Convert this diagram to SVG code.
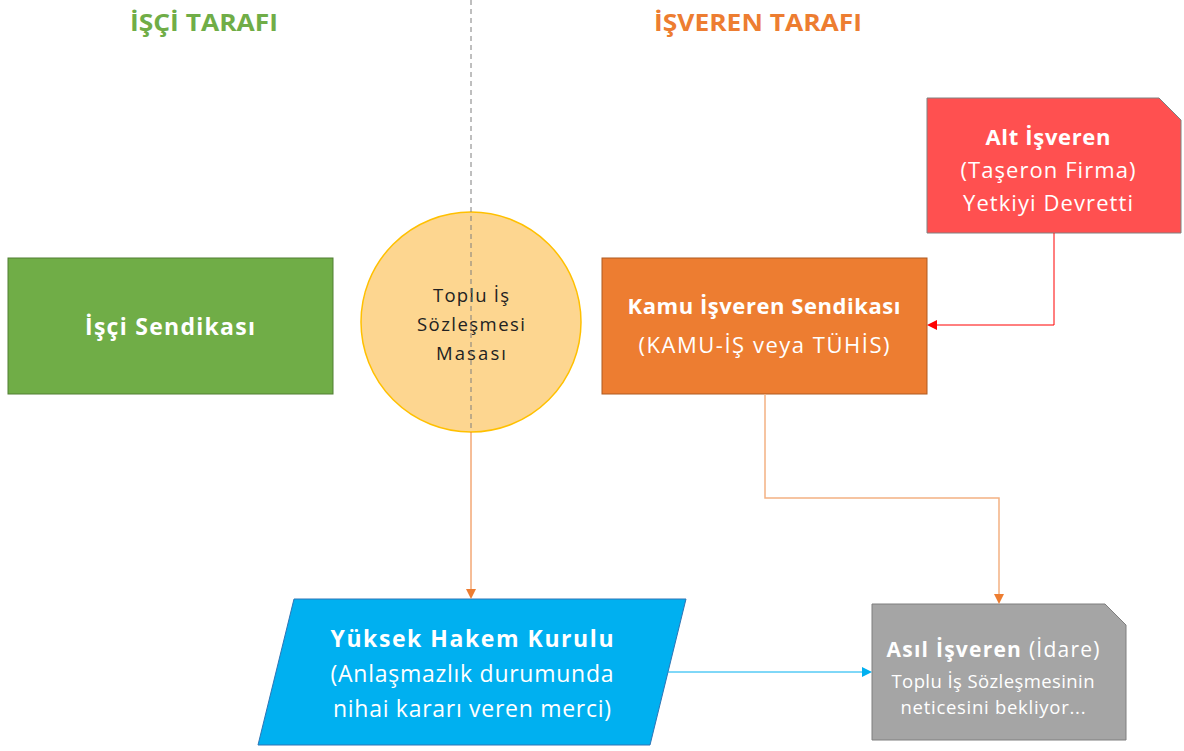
<svg xmlns="http://www.w3.org/2000/svg" width="1184" height="751" viewBox="0 0 1184 751">
<defs>
<style>
text{font-family:"Open Sans","Liberation Sans",sans-serif;text-anchor:middle}
.w{fill:#fff}
.b{font-weight:bold}
.title{font-size:23px;font-weight:bold}
</style>
<marker id="aO" markerWidth="10" markerHeight="10" refX="8" refY="5" orient="auto" markerUnits="userSpaceOnUse"><path d="M0,0 L10,5 L0,10 Z" fill="#ED7D31"/></marker>
<marker id="aR" markerWidth="10" markerHeight="10" refX="8" refY="5" orient="auto" markerUnits="userSpaceOnUse"><path d="M0,0 L10,5 L0,10 Z" fill="#FF0000"/></marker>
<marker id="aB" markerWidth="10" markerHeight="10" refX="8" refY="5" orient="auto" markerUnits="userSpaceOnUse"><path d="M0,0 L10,5 L0,10 Z" fill="#00B0F0"/></marker>
</defs>
<rect width="1184" height="751" fill="#fff"/>
<g id="titles">
<text class="title" x="204" y="31" fill="#70AD47" textLength="148" lengthAdjust="spacingAndGlyphs">İŞÇİ TARAFI</text>
<text class="title" x="758" y="31" fill="#ED7D31" textLength="208" lengthAdjust="spacingAndGlyphs">İŞVEREN TARAFI</text>
</g>
<g id="isci-sendikasi">
<rect x="8" y="258" width="325" height="136" fill="#70AD47" stroke="#507E32" stroke-width="1"/>
<text class="w b" x="170" y="335" font-size="23" textLength="170">İşçi Sendikası</text>
</g>
<g id="kamu-isveren">
<rect x="602" y="258" width="325" height="136" fill="#ED7D31" stroke="#AE5A21" stroke-width="1"/>
<text class="w b" x="764" y="314" font-size="22" textLength="273">Kamu İşveren Sendikası</text>
<text class="w" x="764" y="353" font-size="22" textLength="251">(KAMU-İŞ veya TÜHİS)</text>
</g>
<g id="alt-isveren">
<path d="M927,98 H1159 L1181,120 V233 H927 Z" fill="#FF5050" stroke="#808080" stroke-width="1"/>
<text class="w b" x="1048" y="145" font-size="22" textLength="125">Alt İşveren</text>
<text class="w" x="1048" y="178" font-size="22" textLength="175">(Taşeron Firma)</text>
<text class="w" x="1048" y="211" font-size="22" textLength="170">Yetkiyi Devretti</text>
</g>
<g id="masa">
<circle cx="471" cy="322" r="110" fill="#FDD690" stroke="#FFC000" stroke-width="1.5"/>
<text x="471" y="302" font-size="18.5" fill="#222" textLength="76">Toplu İş</text>
<text x="471" y="331" font-size="18.5" fill="#222" textLength="108">Sözleşmesi</text>
<text x="471" y="360" font-size="18.5" fill="#222" textLength="70">Masası</text>
</g>
<g id="yuksek-hakem">
<path d="M294,599 H686 L650,745 H258 Z" fill="#00B0F0" stroke="#2E75B6" stroke-width="1"/>
<text class="w b" x="472" y="647" font-size="23" textLength="283">Yüksek Hakem Kurulu</text>
<text class="w" x="472" y="682" font-size="23" textLength="283">(Anlaşmazlık durumunda</text>
<text class="w" x="472" y="717" font-size="23" textLength="278">nihai kararı veren merci)</text>
</g>
<g id="asil-isveren">
<path d="M872,604 H1105 L1126,625 V740 H872 Z" fill="#A5A5A5" stroke="#7F7F7F" stroke-width="1"/>
<text class="w" x="993" y="657" font-size="21" textLength="213"><tspan font-weight="bold">Asıl İşveren</tspan> (İdare)</text>
<text class="w" x="993" y="688" font-size="18.5" textLength="203">Toplu İş Sözleşmesinin</text>
<text class="w" x="993" y="714" font-size="18.5" textLength="185">neticesini bekliyor...</text>
</g>
<g id="connectors" fill="none">
<line x1="471" y1="0" x2="471" y2="432" stroke="#7F7F7F" stroke-width="1" stroke-dasharray="5,4"/>
<line x1="471" y1="432" x2="471" y2="597" stroke="#ED7D31" stroke-width="1" marker-end="url(#aO)"/>
<polyline points="1054,233 1054,325 929,325" stroke="#FF0000" stroke-width="1" marker-end="url(#aR)"/>
<polyline points="765,394 765,498 999,498 999,602" stroke="#F4B183" stroke-width="1.5" marker-end="url(#aO)"/>
<line x1="668" y1="672" x2="870" y2="672" stroke="#00B0F0" stroke-width="1" marker-end="url(#aB)"/>
</g>
</svg>
